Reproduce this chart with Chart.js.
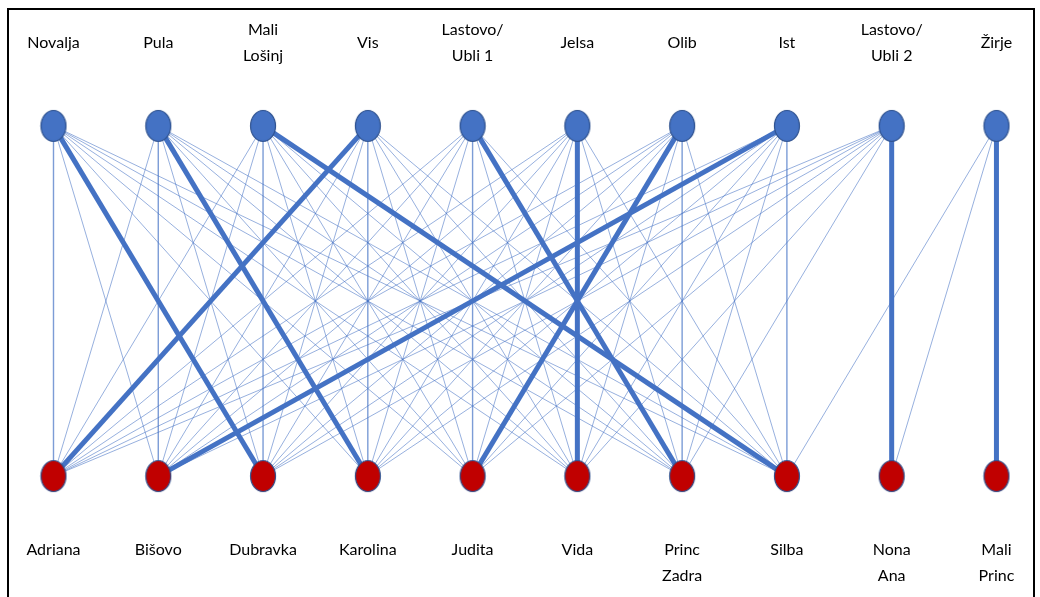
<!DOCTYPE html>
<html>
<head>
<meta charset="utf-8">
<script src="https://cdn.jsdelivr.net/npm/chart.js@4.4.1/dist/chart.umd.min.js"></script>
<style>
  html, body { margin: 0; padding: 0; background: #fff; overflow: hidden; }
  #wrap { position: relative; width: 1040px; height: 597px; }
  #frame { position: absolute; left: 7px; top: 8px; width: 1024px; height: 620px;
           border: 2px solid #000; pointer-events: none; }
</style>
</head>
<body>
<div id="wrap">
  <canvas id="graf"></canvas>
  <div id="frame"></div>
</div>
<script>
// nodos de arriba y de abajo (mismo orden de columnas)
const arriba = [['Novalja'], ['Pula'], ['Mali', 'Lošinj'], ['Vis'], ['Lastovo/', 'Ubli 1'],
                ['Jelsa'], ['Olib'], ['Ist'], ['Lastovo/', 'Ubli 2'], ['Žirje']];
const abajo = [['Adriana'], ['Bišovo'], ['Dubravka'], ['Karolina'], ['Judita'],
               ['Vida'], ['Princ', 'Zadra'], ['Silba'], ['Nona', 'Ana'], ['Mali', 'Princ']];

// enlaces finos: para cada nodo de arriba, los índices de abajo
const enlacesFinos = [
    [0, 1, 3, 4, 5, 6, 7],
    [0, 1, 2, 4, 5, 6, 7],
    [0, 1, 2, 3, 4, 5, 6],
    [1, 2, 3, 4, 5, 6, 7],
    [0, 1, 2, 3, 4, 5, 7],
    [0, 1, 2, 3, 4, 6, 7],
    [0, 1, 2, 3, 5, 6, 7],
    [0, 2, 3, 4, 5, 6, 7],
    [0, 1, 2, 3, 4, 5, 6],
    [7, 8]
];
// enlace grueso (asignación) de cada nodo de arriba
const enlacesGruesos = [2, 3, 7, 0, 6, 5, 4, 1, 8, 9];

const Y_ARRIBA = 1;
const Y_ABAJO = 0;

function elipse(fill, stroke) {
    const c = document.createElement('canvas');
    c.width = 28; c.height = 34;
    const g = c.getContext('2d');
    g.beginPath();
    g.ellipse(14, 17, 12.5, 15.5, 0, 0, Math.PI * 2);
    g.fillStyle = fill;
    g.fill();
    g.lineWidth = 1.2;
    g.strokeStyle = stroke;
    g.stroke();
    return c;
}

const datasets = [];

enlacesFinos.forEach((lista, i) => {
    lista.forEach(j => {
        datasets.push({
            data: [{ x: i, y: Y_ARRIBA }, { x: j, y: Y_ABAJO }],
            showLine: true,
            borderColor: 'rgba(68,114,196,0.7)',
            borderWidth: i === j ? 1.4 : 0.8,
            pointRadius: 0,
            order: 3
        });
    });
});

enlacesGruesos.forEach((j, i) => {
    datasets.push({
        data: [{ x: i, y: Y_ARRIBA }, { x: j, y: Y_ABAJO }],
        showLine: true,
        borderColor: '#4472C4',
        borderWidth: 5,
        pointRadius: 0,
        order: 2
    });
});

datasets.push({
    data: arriba.map((_, i) => ({ x: i, y: Y_ARRIBA })),
    pointStyle: elipse('#4472C4', '#2F528F'),
    showLine: false,
    order: 0
});
datasets.push({
    data: abajo.map((_, i) => ({ x: i, y: Y_ABAJO })),
    pointStyle: elipse('#C00000', '#2F528F'),
    showLine: false,
    order: 0
});

// nombres encima y debajo de los nodos
const nombres = {
    id: 'nombres',
    afterDatasetsDraw(chart) {
        const ctx = chart.ctx;
        const sx = chart.scales.x, sy = chart.scales.y;
        const lh = 26;
        ctx.save();
        ctx.font = '16px Lato, "Open Sans", sans-serif';
        ctx.fillStyle = '#000';
        ctx.textAlign = 'center';
        ctx.textBaseline = 'middle';
        const yTop = sy.getPixelForValue(Y_ARRIBA) - 83;
        arriba.forEach((lineas, i) => {
            const x = sx.getPixelForValue(i);
            const y0 = yTop - (lineas.length - 1) * lh / 2;
            lineas.forEach((t, k) => ctx.fillText(t, x, y0 + k * lh));
        });
        const yBot = sy.getPixelForValue(Y_ABAJO) + 74;
        abajo.forEach((lineas, i) => {
            const x = sx.getPixelForValue(i);
            lineas.forEach((t, k) => ctx.fillText(t, x, yBot + k * 26));
        });
        ctx.restore();
    }
};

new Chart(document.getElementById('graf'), {
    type: 'scatter',
    data: { datasets },
    options: {
        responsive: true,
        maintainAspectRatio: false,
        animation: false,
        layout: { padding: 0 },
        plugins: { legend: { display: false }, tooltip: { enabled: false } },
        scales: {
            x: { type: 'linear', min: -0.4629, max: 9.368, display: false },
            y: { type: 'linear', min: -0.3311, max: 1.3453, display: false }
        }
    },
    plugins: [nombres]
});
</script>
</body>
</html>
